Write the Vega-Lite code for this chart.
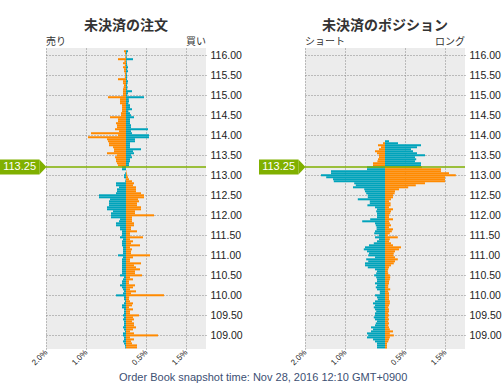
{
  "$schema": "https://vega.github.io/schema/vega-lite/v6.json",
  "padding": {"left": 0, "top": 19, "right": 5, "bottom": 0},
  "bounds": "flush",
  "spacing": 99,
  "title": {"text": "Order Book snapshot time: Nov 28, 2016 12:10 GMT+0900", "orient": "bottom", "anchor": "start", "frame": "group", "fontSize": 11, "fontWeight": "normal", "font": "Liberation Sans", "color": "#3c4f73", "offset": 5, "dx": 73},
  "datasets": {
    "now": [{"p": 113.21, "label": "113.25"}],
    "orders": [
      {"p":116.10,"o":-0.05,"t":0.05},{"p":116.05,"o":-0.025,"t":0.025},{"p":116.00,"o":-0.015,"t":0.015},{"p":115.95,"o":-0.02,"t":0.02},
      {"p":115.90,"o":-0.2,"t":0.175},{"p":115.85,"o":-0.04,"t":0.02},{"p":115.80,"o":-0.075,"t":0.025},{"p":115.75,"o":-0.03,"t":0.03},
      {"p":115.70,"o":-0.075,"t":0.05},{"p":115.65,"o":-0.05,"t":0.03},{"p":115.60,"o":-0.05,"t":0.05},{"p":115.55,"o":-0.03,"t":0.02},
      {"p":115.50,"o":-0.025,"t":0.025},{"p":115.45,"o":-0.03,"t":0.03},{"p":115.40,"o":-0.2,"t":0.025},{"p":115.35,"o":-0.075,"t":0.05},
      {"p":115.30,"o":-0.075,"t":0.04},{"p":115.25,"o":-0.05,"t":0.025},{"p":115.20,"o":-0.06,"t":0.04},{"p":115.15,"o":-0.075,"t":0.03},
      {"p":115.10,"o":-0.075,"t":0.15},{"p":115.05,"o":-0.075,"t":0.05},{"p":115.00,"o":-0.075,"t":0.03},{"p":114.95,"o":-0.45,"t":0.45},
      {"p":114.90,"o":-0.15,"t":0.07},{"p":114.85,"o":-0.15,"t":0.075},{"p":114.80,"o":-0.15,"t":0.06},{"p":114.75,"o":-0.1,"t":0.1},
      {"p":114.70,"o":-0.1,"t":0.1},{"p":114.65,"o":-0.1,"t":0.15},{"p":114.60,"o":-0.1,"t":0.06},{"p":114.55,"o":-0.125,"t":0.1},
      {"p":114.50,"o":-0.125,"t":0.125},{"p":114.45,"o":-0.4,"t":0.2},{"p":114.40,"o":-0.2,"t":0.1},{"p":114.35,"o":-0.2,"t":0.1},
      {"p":114.30,"o":-0.25,"t":0.1},{"p":114.25,"o":-0.225,"t":0.125},{"p":114.20,"o":-0.225,"t":0.125},{"p":114.15,"o":-0.275,"t":0.55},
      {"p":114.10,"o":-0.175,"t":0.125},{"p":114.05,"o":-0.875,"t":0.15},{"p":114.00,"o":-0.2,"t":0.575},{"p":113.95,"o":-0.95,"t":0.575},
      {"p":113.90,"o":-0.475,"t":0.225},{"p":113.85,"o":-0.45,"t":0.225},{"p":113.80,"o":-0.425,"t":0.1},{"p":113.75,"o":-0.425,"t":0.1},
      {"p":113.70,"o":-0.325,"t":0.1},{"p":113.65,"o":-0.3,"t":0.375},{"p":113.60,"o":-0.3,"t":0.175},{"p":113.55,"o":-0.475,"t":0.2},
      {"p":113.50,"o":-0.225,"t":0.125},{"p":113.45,"o":-0.275,"t":0.15},{"p":113.40,"o":-0.25,"t":0.1},{"p":113.35,"o":-0.25,"t":0.1},
      {"p":113.30,"o":-0.225,"t":0.075},{"p":113.25,"o":-0.2,"t":0.075},
      {"p":113.20,"o":0,"t":-0.1},{"p":113.15,"o":0,"t":-0.1},{"p":113.10,"o":0.01,"t":0},{"p":113.05,"o":0.02,"t":-0.02},
      {"p":113.00,"o":0.03,"t":-0.05},{"p":112.95,"o":0.05,"t":-0.05},{"p":112.90,"o":0.075,"t":-0.01},{"p":112.85,"o":0.15,"t":-0.02},
      {"p":112.80,"o":0.2,"t":-0.25},{"p":112.75,"o":0.175,"t":-0.25},{"p":112.70,"o":0.25,"t":-0.175},{"p":112.65,"o":0.25,"t":-0.225},
      {"p":112.60,"o":0.25,"t":-0.225},{"p":112.55,"o":0.375,"t":-0.25},{"p":112.50,"o":0.45,"t":-0.675},{"p":112.45,"o":0.45,"t":-0.675},
      {"p":112.40,"o":0.3,"t":-0.4},{"p":112.35,"o":0.325,"t":-0.425},{"p":112.30,"o":0.275,"t":-0.425},{"p":112.25,"o":0.275,"t":-0.425},
      {"p":112.20,"o":0.375,"t":-0.475},{"p":112.15,"o":0.375,"t":-0.475},{"p":112.10,"o":0.225,"t":-0.325},{"p":112.05,"o":0.225,"t":-0.375},
      {"p":112.00,"o":0.7,"t":-0.375},{"p":111.95,"o":0.15,"t":-0.375},{"p":111.90,"o":0.15,"t":-0.15},{"p":111.85,"o":0.15,"t":-0.175},
      {"p":111.80,"o":0.2,"t":-0.25},{"p":111.75,"o":0.2,"t":-0.25},{"p":111.70,"o":0.125,"t":-0.15},{"p":111.65,"o":0.125,"t":-0.15},
      {"p":111.60,"o":0.275,"t":-0.1},{"p":111.55,"o":0.1,"t":-0.1},{"p":111.50,"o":0.1,"t":-0.1},{"p":111.45,"o":0.425,"t":-0.15},
      {"p":111.40,"o":0.1,"t":-0.075},{"p":111.35,"o":0.175,"t":-0.1},{"p":111.30,"o":0.125,"t":-0.1},{"p":111.25,"o":0.35,"t":-0.1},
      {"p":111.20,"o":0.1,"t":-0.075},{"p":111.15,"o":0.15,"t":-0.075},{"p":111.10,"o":0.125,"t":-0.075},{"p":111.05,"o":0.125,"t":-0.075},
      {"p":111.00,"o":0.6,"t":-0.2},{"p":110.95,"o":0.175,"t":-0.075},{"p":110.90,"o":0.1,"t":-0.1},{"p":110.85,"o":0.1,"t":-0.1},
      {"p":110.80,"o":0.375,"t":-0.1},{"p":110.75,"o":0.2,"t":-0.1},{"p":110.70,"o":0.25,"t":-0.1},{"p":110.65,"o":0.35,"t":-0.1},
      {"p":110.60,"o":0.225,"t":-0.1},{"p":110.55,"o":0.225,"t":-0.1},{"p":110.50,"o":0.4,"t":-0.15},{"p":110.45,"o":0.1,"t":-0.05},
      {"p":110.40,"o":0.175,"t":-0.075},{"p":110.35,"o":0.075,"t":-0.1},{"p":110.30,"o":0.075,"t":-0.1},{"p":110.25,"o":0.225,"t":-0.15},
      {"p":110.20,"o":0.175,"t":-0.1},{"p":110.15,"o":0.1,"t":-0.075},{"p":110.10,"o":0.25,"t":-0.05},{"p":110.05,"o":0.125,"t":-0.075},
      {"p":110.00,"o":0.95,"t":-0.25},{"p":109.95,"o":0.08,"t":-0.05},{"p":109.90,"o":0.075,"t":-0.05},{"p":109.85,"o":0.1,"t":-0.025},
      {"p":109.80,"o":0.175,"t":-0.05},{"p":109.75,"o":0.15,"t":-0.1},{"p":109.70,"o":0.075,"t":-0.1},{"p":109.65,"o":0.175,"t":-0.05},
      {"p":109.60,"o":0.1,"t":-0.05},{"p":109.55,"o":0.1,"t":-0.05},{"p":109.50,"o":0.325,"t":-0.075},{"p":109.45,"o":0.175,"t":-0.05},
      {"p":109.40,"o":0.2,"t":-0.075},{"p":109.35,"o":0.15,"t":-0.05},{"p":109.30,"o":0.2,"t":-0.05},{"p":109.25,"o":0.2,"t":-0.05},
      {"p":109.20,"o":0.25,"t":-0.075},{"p":109.15,"o":0.175,"t":-0.05},{"p":109.10,"o":0.1,"t":-0.025},{"p":109.05,"o":0.2,"t":-0.075},
      {"p":109.00,"o":0.8,"t":-0.075},{"p":108.95,"o":0.1,"t":-0.05},{"p":108.90,"o":0.2,"t":-0.05},{"p":108.85,"o":0.125,"t":-0.075},
      {"p":108.80,"o":0.15,"t":-0.05},{"p":108.75,"o":0.275,"t":-0.025},{"p":108.70,"o":0.275,"t":-0.02}
    ],
    "positions": [
      {"p":113.85,"o":0,"t":0.1},{"p":113.80,"o":-0.05,"t":0.325},{"p":113.75,"o":-0.175,"t":0.9},{"p":113.70,"o":-0.1,"t":0.8},
      {"p":113.65,"o":-0.15,"t":0.65},{"p":113.60,"o":-0.25,"t":0.7},{"p":113.55,"o":-0.2,"t":0.8},{"p":113.50,"o":-0.15,"t":1.0},
      {"p":113.45,"o":-0.15,"t":0.75},{"p":113.40,"o":-0.175,"t":0.78},{"p":113.35,"o":-0.19,"t":0.75},{"p":113.30,"o":-0.3,"t":0.9},
      {"p":113.25,"o":-0.3,"t":0.9},
      {"p":113.20,"o":0.92,"t":-0.45},{"p":113.15,"o":1.4,"t":-0.45},{"p":113.10,"o":1.4,"t":-1.35},{"p":113.05,"o":1.6,"t":-1.35},
      {"p":113.00,"o":1.77,"t":-1.6},{"p":112.95,"o":1.5,"t":-1.47},{"p":112.90,"o":1.5,"t":-1.3},{"p":112.85,"o":1.5,"t":-1.28},
      {"p":112.80,"o":1.0,"t":-0.77},{"p":112.75,"o":0.77,"t":-0.73},{"p":112.70,"o":0.58,"t":-0.8},{"p":112.65,"o":0.35,"t":-0.52},
      {"p":112.60,"o":0.25,"t":-0.5},{"p":112.55,"o":0.24,"t":-0.47},{"p":112.50,"o":0.2,"t":-0.43},{"p":112.45,"o":0.2,"t":-0.43},
      {"p":112.40,"o":0.15,"t":-0.68},{"p":112.35,"o":0.1,"t":-0.38},{"p":112.30,"o":0.14,"t":-0.38},{"p":112.25,"o":0.14,"t":-0.44},
      {"p":112.20,"o":0.1,"t":-0.25},{"p":112.15,"o":0.2,"t":-0.2},{"p":112.10,"o":0.15,"t":-0.22},{"p":112.05,"o":0.13,"t":-0.2},
      {"p":112.00,"o":0.1,"t":-0.2},{"p":111.95,"o":0.1,"t":-0.2},{"p":111.90,"o":0.2,"t":-0.37},{"p":111.85,"o":0.1,"t":-0.57},
      {"p":111.80,"o":0.12,"t":-0.25},{"p":111.75,"o":0.15,"t":-0.23},{"p":111.70,"o":0.1,"t":-0.21},{"p":111.65,"o":0.2,"t":-0.21},
      {"p":111.60,"o":0.17,"t":-0.25},{"p":111.55,"o":0.12,"t":-0.27},{"p":111.50,"o":0.07,"t":-0.15},{"p":111.45,"o":0.32,"t":-0.25},
      {"p":111.40,"o":0.12,"t":-0.15},{"p":111.35,"o":0.1,"t":-0.2},{"p":111.30,"o":0.15,"t":-0.28},{"p":111.25,"o":0.2,"t":-0.4},
      {"p":111.20,"o":0.4,"t":-0.5},{"p":111.15,"o":0.35,"t":-0.53},{"p":111.10,"o":0.25,"t":-0.45},{"p":111.05,"o":0.22,"t":-0.4},
      {"p":111.00,"o":0.21,"t":-0.42},{"p":110.95,"o":0.25,"t":-0.25},{"p":110.90,"o":0.32,"t":-0.47},{"p":110.85,"o":0.25,"t":-0.42},
      {"p":110.80,"o":0.22,"t":-0.5},{"p":110.75,"o":0.15,"t":-0.5},{"p":110.70,"o":0.1,"t":-0.43},{"p":110.65,"o":0.08,"t":-0.25},
      {"p":110.60,"o":0.07,"t":-0.2},{"p":110.55,"o":0.08,"t":-0.22},{"p":110.50,"o":0.12,"t":-0.27},{"p":110.45,"o":0.13,"t":-0.22},
      {"p":110.40,"o":0.12,"t":-0.2},{"p":110.35,"o":0.1,"t":-0.2},{"p":110.30,"o":0.1,"t":-0.25},{"p":110.25,"o":0.08,"t":-0.2},
      {"p":110.20,"o":0.08,"t":-0.23},{"p":110.15,"o":0.13,"t":-0.2},{"p":110.10,"o":0.08,"t":-0.13},{"p":110.05,"o":0.1,"t":-0.13},
      {"p":110.00,"o":0.1,"t":-0.25},{"p":109.95,"o":0.1,"t":-0.2},{"p":109.90,"o":0.1,"t":-0.18},{"p":109.85,"o":0.12,"t":-0.25},
      {"p":109.80,"o":0.12,"t":-0.3},{"p":109.75,"o":0.1,"t":-0.25},{"p":109.70,"o":0.08,"t":-0.28},{"p":109.65,"o":0.1,"t":-0.25},
      {"p":109.60,"o":0.1,"t":-0.22},{"p":109.55,"o":0.08,"t":-0.25},{"p":109.50,"o":0.1,"t":-0.25},{"p":109.45,"o":0.08,"t":-0.28},
      {"p":109.40,"o":0.1,"t":-0.25},{"p":109.35,"o":0.08,"t":-0.2},{"p":109.30,"o":0.1,"t":-0.23},{"p":109.25,"o":0.08,"t":-0.25},
      {"p":109.20,"o":0.1,"t":-0.35},{"p":109.15,"o":0.12,"t":-0.3},{"p":109.10,"o":0.2,"t":-0.35},{"p":109.05,"o":0.12,"t":-0.45},
      {"p":109.00,"o":0.22,"t":-0.42},{"p":108.95,"o":0.12,"t":-0.45},{"p":108.90,"o":0.1,"t":-0.3},{"p":108.85,"o":0.08,"t":-0.25},
      {"p":108.80,"o":0.05,"t":-0.2},{"p":108.75,"o":0.05,"t":-0.2},{"p":108.70,"o":0.05,"t":-0.2}
    ]
  },
  "hconcat": [
    {
      "width": 160, "height": 301,
      "title": {"text": "未決済の注文", "frame": "group", "anchor": "middle", "font": "Noto Sans CJK JP", "fontSize": 14, "fontWeight": "bold", "color": "#333333", "offset": 4},
      "data": {"name": "orders"},
      "encoding": {
        "y": {"field": "p", "type": "quantitative", "scale": {"domain": [108.66, 116.18], "nice": false, "zero": false, "padding": 0},
          "axis": {"orient": "right", "values": [109,109.5,110,110.5,111,111.5,112,112.5,113,113.5,114,114.5,115,115.5,116], "format": ".2f", "title": null, "domain": false, "ticks": false, "grid": true, "gridDash": [1,2], "gridColor": "#888888", "labelPadding": 4, "labelFontSize": 10.5, "labelFlush": false, "labelOverlap": false}}
      },
      "layer": [
        {"mark": {"type": "bar", "orient": "horizontal", "size": 2, "color": "#ff8a00"},
         "encoding": {"x": {"field": "o", "type": "quantitative", "stack": null, "scale": {"domain": [-2, 2], "nice": false, "padding": 0},
           "axis": {"values": [-2,-1.5,-1,-0.5,0.5,1,1.5,2], "labelExpr": "format(abs(datum.value), '.1f') + '%'", "title": null, "domain": false, "ticks": false, "grid": true, "gridDash": [1,2], "gridColor": "#888888", "labelAngle": -45, "labelAlign": "right", "labelBaseline": "middle", "labelPadding": 2, "labelFontSize": 8, "labelFlush": false, "labelOverlap": false, "labelSeparation": -12, "labelBound": false}}}},
        {"mark": {"type": "bar", "orient": "horizontal", "size": 2, "color": "#00a3bb"},
         "encoding": {"x": {"field": "t", "type": "quantitative", "stack": null,
           "axis": {"values": [-2,-1.5,-1,-0.5,0.5,1,1.5,2], "labelExpr": "format(abs(datum.value), '.1f') + '%'", "title": null, "domain": false, "ticks": false, "grid": true, "gridDash": [1,2], "gridColor": "#888888", "labelAngle": -45, "labelAlign": "right", "labelBaseline": "middle", "labelPadding": 2, "labelFontSize": 8, "labelFlush": false, "labelOverlap": false, "labelSeparation": -12, "labelBound": false}}}},
        {"data": {"name": "now"}, "mark": {"type": "rule", "color": "#80b000", "strokeWidth": 1.5},
         "encoding": {"x": {"datum": -2}, "x2": {"datum": 2}}},
        {"data": {"name": "now"}, "mark": {"type": "bar", "orient": "horizontal", "size": 15, "color": "#80b000"},
         "encoding": {"x": {"datum": -3.15}, "x2": {"datum": -2.165}}},
        {"data": {"name": "now"}, "mark": {"type": "point", "shape": "M0,-1L0.95,0L0,1Z", "size": 225, "filled": true, "opacity": 1, "color": "#80b000"},
         "encoding": {"x": {"datum": -2.165}}},
        {"data": {"name": "now"}, "mark": {"type": "text", "color": "#ffffff", "fontSize": 11, "font": "Liberation Sans", "align": "center", "baseline": "middle"},
         "encoding": {"x": {"datum": -2.66}, "text": {"field": "label"}}},
        {"data": {"name": "now"}, "mark": {"type": "text", "color": "#333333", "fontSize": 10, "font": "Noto Sans CJK JP", "align": "left", "baseline": "bottom", "dy": -1},
         "encoding": {"x": {"datum": -2}, "y": {"datum": 116.18}, "text": {"value": "売り"}}},
        {"data": {"name": "now"}, "mark": {"type": "text", "color": "#333333", "fontSize": 10, "font": "Noto Sans CJK JP", "align": "right", "baseline": "bottom", "dy": -1},
         "encoding": {"x": {"datum": 2}, "y": {"datum": 116.18}, "text": {"value": "買い"}}}
      ]
    },
    {
      "width": 160, "height": 301,
      "title": {"text": "未決済のポジション", "frame": "group", "anchor": "middle", "font": "Noto Sans CJK JP", "fontSize": 14, "fontWeight": "bold", "color": "#333333", "offset": 4},
      "data": {"name": "positions"},
      "encoding": {
        "y": {"field": "p", "type": "quantitative", "scale": {"domain": [108.66, 116.18], "nice": false, "zero": false, "padding": 0},
          "axis": {"orient": "right", "values": [109,109.5,110,110.5,111,111.5,112,112.5,113,113.5,114,114.5,115,115.5,116], "format": ".2f", "title": null, "domain": false, "ticks": false, "grid": true, "gridDash": [1,2], "gridColor": "#888888", "labelPadding": 4, "labelFontSize": 10.5, "labelFlush": false, "labelOverlap": false}}
      },
      "layer": [
        {"mark": {"type": "bar", "orient": "horizontal", "size": 2, "color": "#ff8a00"},
         "encoding": {"x": {"field": "o", "type": "quantitative", "stack": null, "scale": {"domain": [-2, 2], "nice": false, "padding": 0},
           "axis": {"values": [-2,-1.5,-1,-0.5,0.5,1,1.5,2], "labelExpr": "format(abs(datum.value), '.1f') + '%'", "title": null, "domain": false, "ticks": false, "grid": true, "gridDash": [1,2], "gridColor": "#888888", "labelAngle": -45, "labelAlign": "right", "labelBaseline": "middle", "labelPadding": 2, "labelFontSize": 8, "labelFlush": false, "labelOverlap": false, "labelSeparation": -12, "labelBound": false}}}},
        {"mark": {"type": "bar", "orient": "horizontal", "size": 2, "color": "#00a3bb"},
         "encoding": {"x": {"field": "t", "type": "quantitative", "stack": null,
           "axis": {"values": [-2,-1.5,-1,-0.5,0.5,1,1.5,2], "labelExpr": "format(abs(datum.value), '.1f') + '%'", "title": null, "domain": false, "ticks": false, "grid": true, "gridDash": [1,2], "gridColor": "#888888", "labelAngle": -45, "labelAlign": "right", "labelBaseline": "middle", "labelPadding": 2, "labelFontSize": 8, "labelFlush": false, "labelOverlap": false, "labelSeparation": -12, "labelBound": false}}}},
        {"data": {"name": "now"}, "mark": {"type": "rule", "color": "#80b000", "strokeWidth": 1.5},
         "encoding": {"x": {"datum": -2}, "x2": {"datum": 2}}},
        {"data": {"name": "now"}, "mark": {"type": "bar", "orient": "horizontal", "size": 15, "color": "#80b000"},
         "encoding": {"x": {"datum": -3.15}, "x2": {"datum": -2.165}}},
        {"data": {"name": "now"}, "mark": {"type": "point", "shape": "M0,-1L0.95,0L0,1Z", "size": 225, "filled": true, "opacity": 1, "color": "#80b000"},
         "encoding": {"x": {"datum": -2.165}}},
        {"data": {"name": "now"}, "mark": {"type": "text", "color": "#ffffff", "fontSize": 11, "font": "Liberation Sans", "align": "center", "baseline": "middle"},
         "encoding": {"x": {"datum": -2.66}, "text": {"field": "label"}}},
        {"data": {"name": "now"}, "mark": {"type": "text", "color": "#333333", "fontSize": 10, "font": "Noto Sans CJK JP", "align": "left", "baseline": "bottom", "dy": -1},
         "encoding": {"x": {"datum": -2}, "y": {"datum": 116.18}, "text": {"value": "ショート"}}},
        {"data": {"name": "now"}, "mark": {"type": "text", "color": "#333333", "fontSize": 10, "font": "Noto Sans CJK JP", "align": "right", "baseline": "bottom", "dy": -1},
         "encoding": {"x": {"datum": 2}, "y": {"datum": 116.18}, "text": {"value": "ロング"}}}
      ]
    }
  ],
  "config": {
    "view": {"fill": "#ececec", "stroke": null},
    "font": "Liberation Sans",
    "axis": {"labelFont": "Liberation Sans", "labelColor": "#222222", "labelOverlap": false},
    "axisX": {"labelOverlap": false}
  }
}
